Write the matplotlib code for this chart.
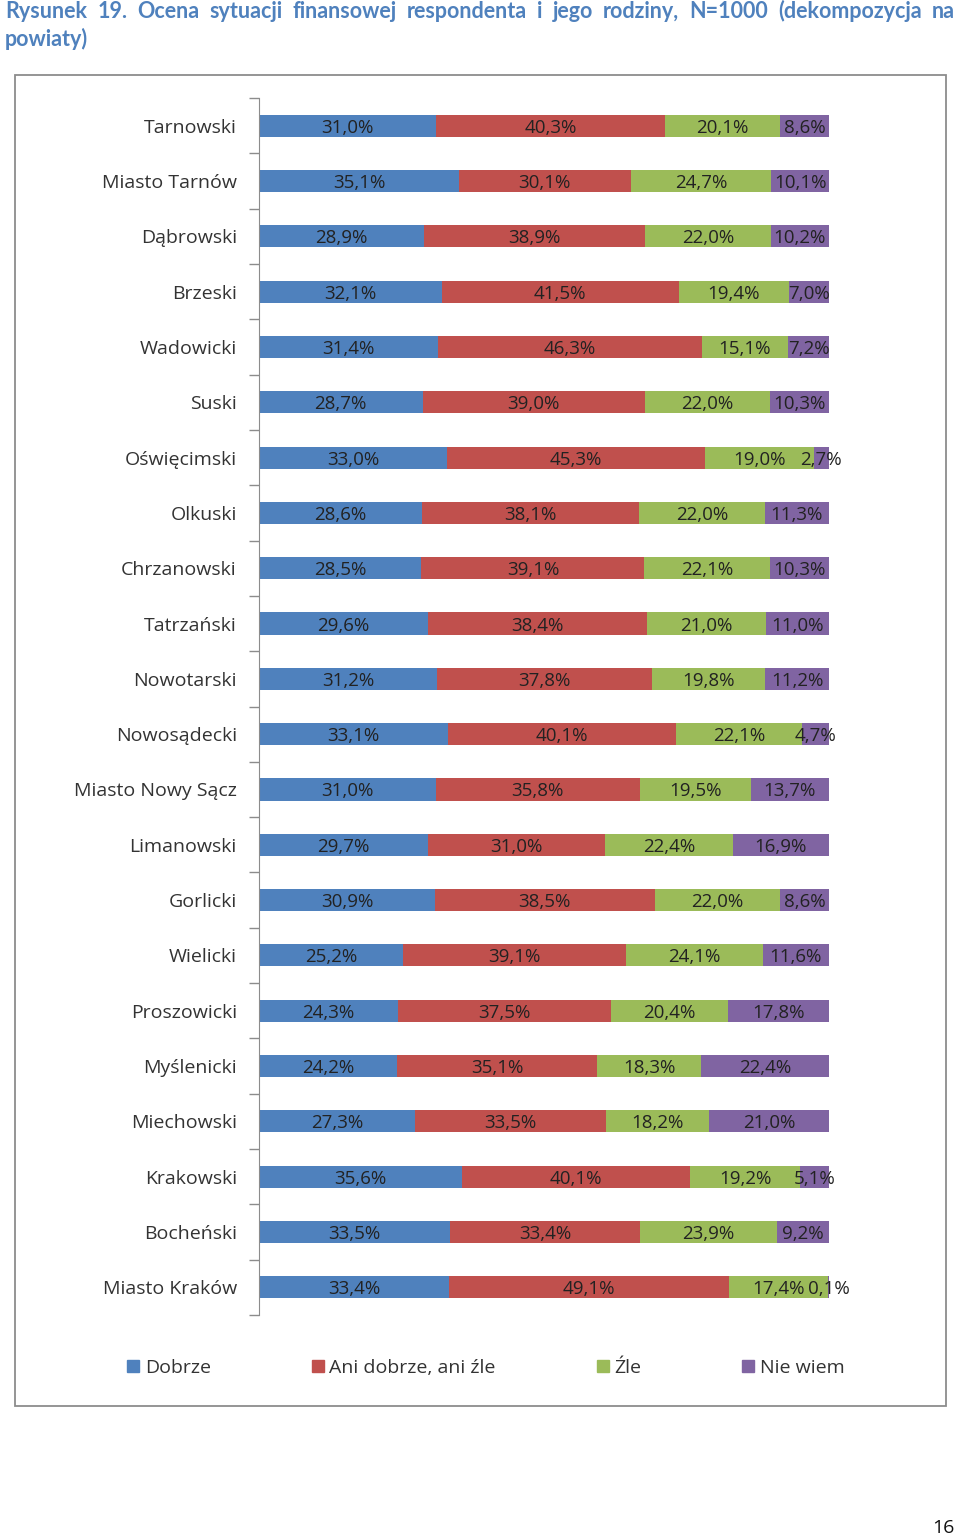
import numpy as np
import matplotlib.pyplot as plt
from matplotlib.patches import Rectangle, Patch

powiaty = ['Tarnowski', 'Miasto Tarnów', 'Dąbrowski', 'Brzeski', 'Wadowicki', 'Suski',
           'Oświęcimski', 'Olkuski', 'Chrzanowski', 'Tatrzański', 'Nowotarski',
           'Nowosądecki', 'Miasto Nowy Sącz', 'Limanowski', 'Gorlicki', 'Wielicki',
           'Proszowicki', 'Myślenicki', 'Miechowski', 'Krakowski', 'Bocheński',
           'Miasto Kraków']
dobrze = [31.0, 35.1, 28.9, 32.1, 31.4, 28.7, 33.0, 28.6, 28.5, 29.6, 31.2,
          33.1, 31.0, 29.7, 30.9, 25.2, 24.3, 24.2, 27.3, 35.6, 33.5, 33.4]
ani = [40.3, 30.1, 38.9, 41.5, 46.3, 39.0, 45.3, 38.1, 39.1, 38.4, 37.8,
       40.1, 35.8, 31.0, 38.5, 39.1, 37.5, 35.1, 33.5, 40.1, 33.4, 49.1]
zle = [20.1, 24.7, 22.0, 19.4, 15.1, 22.0, 19.0, 22.0, 22.1, 21.0, 19.8,
       22.1, 19.5, 22.4, 22.0, 24.1, 20.4, 18.3, 18.2, 19.2, 23.9, 17.4]
nie_wiem = [8.6, 10.1, 10.2, 7.0, 7.2, 10.3, 2.7, 11.3, 10.3, 11.0, 11.2,
            4.7, 13.7, 16.9, 8.6, 11.6, 17.8, 22.4, 21.0, 5.1, 9.2, 0.1]
series_names = ['Dobrze', 'Ani dobrze, ani źle', 'Źle', 'Nie wiem']
colors = ['#4F81BD', '#C0504D', '#9BBB59', '#8064A2']

title1 = 'Rysunek 19. Ocena sytuacji finansowej respondenta i jego rodziny, N=1000 (dekompozycja na'
title2 = 'powiaty)'

plt.rcParams['font.family'] = ['Open Sans', 'DejaVu Sans']

W, H = 960, 1536
fig = plt.figure(figsize=(W / 100, H / 100), dpi=100)

# chart frame
fig.patches.append(Rectangle((15 / W, 1 - 1406 / H), 931 / W, 1331 / H, transform=fig.transFigure,
                             fill=False, edgecolor='#8c8c8c', lw=1.3))

ax = fig.add_axes([259 / W, 1 - 1315 / H, 570 / W, 1217 / H])
y = np.arange(len(powiaty))
left = np.zeros(len(powiaty))
for vals, name, c in zip([dobrze, ani, zle, nie_wiem], series_names, colors):
    bars = ax.barh(y, vals, left=left, height=0.4, color=c, label=name)
    labels = [f'{v:.1f}%'.replace('.', ',') for v in vals]
    txts = ax.bar_label(bars, labels=labels, label_type='center', fontsize=13.5, color='#222222')
    for t in txts:
        t.set_va('center_baseline')
    left += np.array(vals)

ax.set_xlim(0, 100)
ax.set_ylim(len(powiaty) - 0.5, -0.5)
ax.set_yticks(y)
ax.set_yticklabels(powiaty, fontsize=14, color='#333333')
ax.set_yticks(np.arange(len(powiaty) + 1) - 0.5, minor=True)
ax.tick_params(axis='y', which='major', length=0, pad=16)
ax.tick_params(axis='y', which='minor', length=7, color='#8c8c8c', width=1)
ax.set_xticks([])
for s in ['top', 'right', 'bottom']:
    ax.spines[s].set_visible(False)
ax.spines['left'].set_color('#8c8c8c')

handles = [Patch(color=c) for c in colors]
fig.legend(handles, series_names, ncol=4, loc='center', bbox_to_anchor=(486 / W, 1 - 1368 / H),
           frameon=False, fontsize=14, handlelength=0.6, handleheight=0.6, handletextpad=0.3,
           columnspacing=5.2, labelcolor='#333333')

# justified title
tkw = dict(fontsize=15.5, fontweight='bold', color='#4F81BD', va='baseline', family=['Lato', 'DejaVu Sans'])
words = [fig.text(0, 1 - 18 / H, w, **tkw) for w in title1.split()]
renderer = fig.canvas.get_renderer()
widths = [t.get_window_extent(renderer).width for t in words]
gap = (955 - 5 - sum(widths)) / (len(words) - 1)
x = 5
for t, w in zip(words, widths):
    t.set_x(x / W)
    x += w + gap
fig.text(5 / W, 1 - 46 / H, title2, **tkw)

fig.text(955 / W, 1 - 1533 / H, '16', fontsize=14, ha='right', va='baseline', color='#111111')

fig.savefig('out.png', dpi=100)
